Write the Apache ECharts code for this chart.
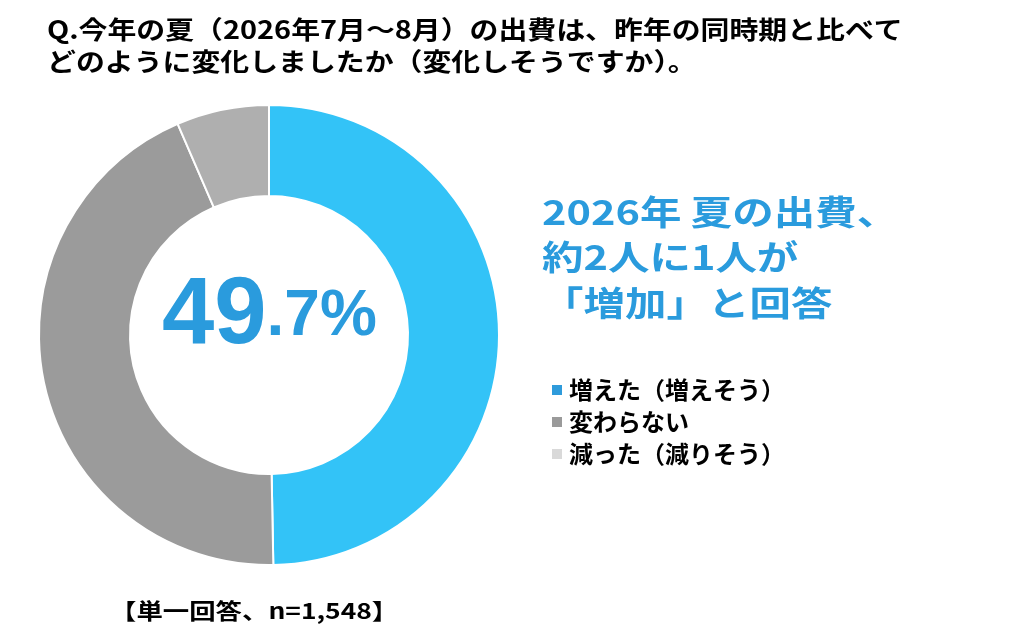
<!DOCTYPE html>
<html>
<head>
<meta charset="utf-8">
<script src="https://cdn.jsdelivr.net/npm/echarts@6/dist/echarts.min.js"></script>
<style>
  html, body { margin: 0; padding: 0; background: #fff; }
  #main { width: 1024px; height: 632px; }
</style>
</head>
<body>
<div id="main"></div>
<script>
// データ
var categories = ['増えた（増えそう）', '変わらない', '減った（減りそう）'];
var shares = [49.7, 43.8, 6.5];
var sliceColors = ['#33C3F7', '#9B9B9B', '#AFAFAF'];
var legendColors = ['#2E9BDB', '#9A9A9A', '#D9D9D9'];

var titleLines = [
    'Q.今年の夏（2026年7月～8月）の出費は、昨年の同時期と比べて',
    'どのように変化しましたか（変化しそうですか）。'
];
var headLines = ['2026年 夏の出費、', '約2人に1人が', '「増加」と回答'];
var footNote = '【単一回答、n=1,548】';

var JP = '"Noto Sans CJK JP", sans-serif';
var BLUE = '#2A9BDD';

var mainChart = null;
var chartOpt = null;

function textEl(str, x, y, size, color, sx) {
    return {
        type: 'text', x: x, y: y, scaleX: sx, silent: true,
        style: {
            text: str, fill: color, fontSize: size, fontWeight: 'bold',
            fontFamily: JP, verticalAlign: 'middle', align: 'left'
        }
    };
}

function initChart() {
    mainChart = echarts.init(document.getElementById('main'), null, { renderer: 'canvas' });

    var pieData = [];
    var legendData = [];
    for (var i = 0; i < categories.length; i++) {
        pieData.push({ name: categories[i], value: shares[i], itemStyle: { color: sliceColors[i] } });
        legendData.push({ name: categories[i], itemStyle: { color: legendColors[i] } });
    }

    var parts = shares[0].toFixed(1).split('.');

    var graphics = [
        textEl(titleLines[0], 47, 29, 25, '#000', 1.155),
        textEl(titleLines[1], 47, 61, 25, '#000', 1.155),
        textEl(headLines[0], 542, 212, 34, BLUE, 1.22),
        textEl(headLines[1], 542, 257, 34, BLUE, 1.22),
        textEl(headLines[2], 542, 303, 34, BLUE, 1.22),
        textEl(footNote, 110, 611, 22, '#000', 1.2),
        {
            type: 'text', x: 162, y: 367, silent: true,
            style: {
                text: '{a|' + parts[0] + '}{b|.' + parts[1] + '%}',
                verticalAlign: 'bottom', align: 'left',
                rich: {
                    a: { fontSize: 94, fontWeight: 'bold', fontFamily: '"Liberation Sans", Arial, sans-serif', fill: BLUE, lineHeight: 100 },
                    b: { fontSize: 64, fontWeight: 'bold', fontFamily: '"Liberation Sans", Arial, sans-serif', fill: BLUE, lineHeight: 100 }
                }
            }
        }
    ];

    chartOpt = {
        backgroundColor: '#fff',
        animation: false,
        legend: {
            orient: 'vertical',
            left: 545,
            top: 373,
            icon: 'rect',
            itemWidth: 12,
            itemHeight: 12,
            itemGap: 8,
            selectedMode: false,
            data: legendData,
            textStyle: { fontSize: 24, fontWeight: 'bold', color: '#000', fontFamily: JP, padding: [0, 0, 0, 1] }
        },
        graphic: graphics,
        series: [
            {
                name: '出費の変化',
                type: 'pie',
                center: [269, 335],
                radius: [139, 230],
                startAngle: 90,
                clockwise: true,
                label: { show: false },
                labelLine: { show: false },
                emphasis: { disabled: true },
                itemStyle: { borderColor: '#fff', borderWidth: 2 },
                data: pieData
            }
        ]
    };

    mainChart.setOption(chartOpt);
}

initChart();
</script>
</body>
</html>
